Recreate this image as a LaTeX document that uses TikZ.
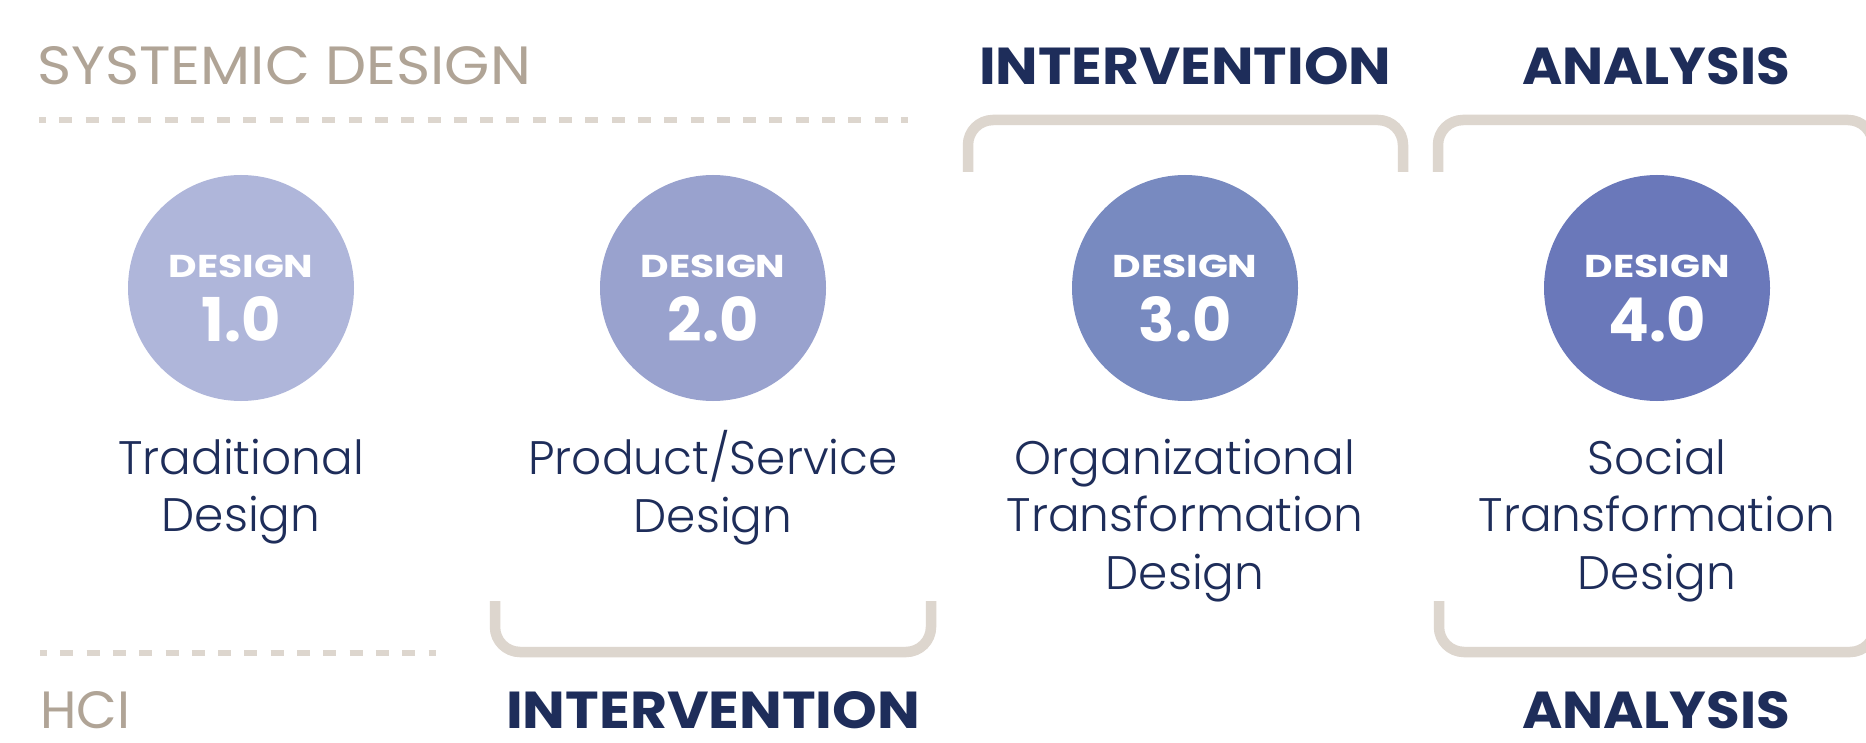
\documentclass[tikz,border=0pt]{standalone}
\usepackage{fontspec}
\setmainfont{Poppins}
\newfontfamily\lightfont{Poppins Light}
\definecolor{navy}{HTML}{1E2D5A}
\definecolor{taupe}{HTML}{B0A496}
\definecolor{bracketc}{HTML}{DDD6CE}
\definecolor{cone}{HTML}{AFB6DA}
\definecolor{ctwo}{HTML}{99A2CE}
\definecolor{cthree}{HTML}{788AC0}
\definecolor{cfour}{HTML}{6A78BA}
\newcommand{\fitbox}[3]{\resizebox{#1}{#2}{#3}}
\tikzset{
  txt/.style={inner sep=0pt, outer sep=0pt},
  head/.style={txt, anchor=south west, text=taupe},
  tag/.style={txt, anchor=south west, text=navy, font=\bfseries},
  disc/.style={circle, inner sep=0pt, minimum size=226pt},
  dlabel/.style={txt, anchor=south, text=white, font=\bfseries},
  lbl/.style={txt, anchor=north, align=center, text=navy, font=\lightfont\fontsize{47}{57.5}\selectfont},
  brack/.style={draw=bracketc, line width=10.5pt, rounded corners=25pt},
  dashline/.style={draw=bracketc, line width=6pt, dash pattern=on 13pt off 13.3pt, dash phase=6pt}
}
\begin{document}
\begin{tikzpicture}[x=1pt,y=-1pt]
\useasboundingbox (0,0) rectangle (1866,743);
\fill[white] (0,0) rectangle (1866,743);

% headings
\node[head] (sd) at (37,85) {\fitbox{494pt}{38pt}{SYSTEMIC DESIGN}};
\node[head] (hci) at (40,729) {\fitbox{90pt}{37pt}{HCI}};
\node[tag] (intt) at (979,85) {\fitbox{412pt}{37pt}{INTERVENTION}};
\node[tag] (anat) at (1522,85) {\fitbox{268pt}{37pt}{ANALYSIS}};
\node[tag] (intb) at (506,729) {\fitbox{414pt}{37pt}{INTERVENTION}};
\node[tag] (anab) at (1522,729) {\fitbox{268pt}{37pt}{ANALYSIS}};

% dashed rules
\coordinate (d1a) at (39,120); \coordinate (d1b) at (908,120);
\coordinate (d2a) at (40,653); \coordinate (d2b) at (436,653);
\draw[dashline] (d1a) -- (d1b);
\draw[dashline] (d2a) -- (d2b);

% brackets
\draw[brack] (968,172) -- (968,120) -- (1403,120) -- (1403,172);
\draw[brack] (1438,172) -- (1438,120) -- (1873,120) -- (1873,172);
\draw[brack] (495,601) -- (495,652) -- (931,652) -- (931,601);
\draw[brack] (1439,601) -- (1439,652) -- (1875,652) -- (1875,601);

% circles
\foreach \n/\x/\c/\v in {1/241/cone/1.0, 2/713/ctwo/2.0, 3/1185/cthree/3.0, 4/1657/cfour/4.0}{
  \node[disc, fill=\c] (c\n) at (\x,288) {};
  \node[dlabel] (d\n) at (\x,277.5) {\fitbox{145pt}{22.5pt}{DESIGN}};
  \node[dlabel] (v\n) at (\x,342) {\fitbox{!}{45pt}{\v}};
}

% labels
\node[lbl] (l1) at (241,439) {Traditional\\Design};
\node[lbl] (l2) at (713,430.5) {Product/Service\\Design};
\node[lbl] (l3) at (1185,439) {Organizational\\Transformation\\Design};
\node[lbl] (l4) at (1657,439) {Social\\Transformation\\Design};
\end{tikzpicture}
\end{document}
